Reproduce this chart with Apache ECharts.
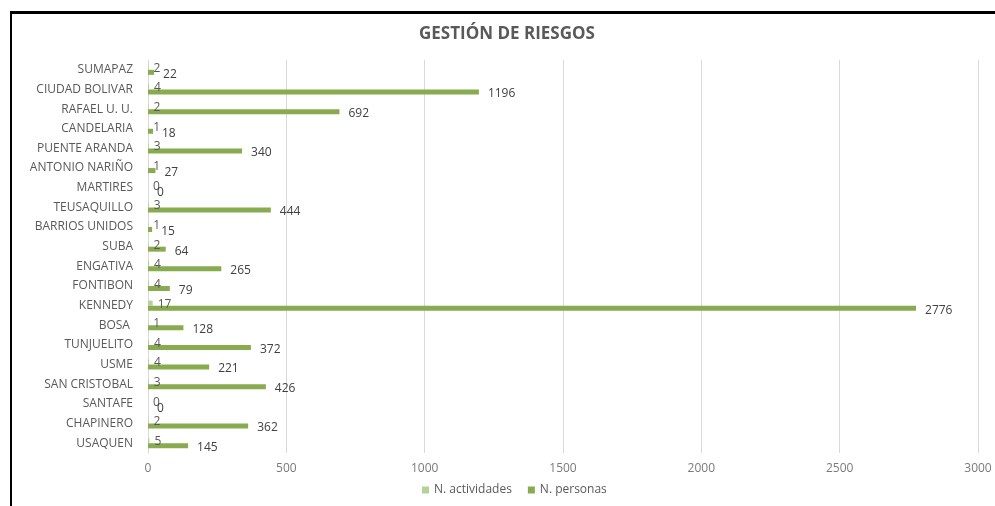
<!DOCTYPE html>
<html>
<head>
<meta charset="utf-8">
<script src="https://cdn.jsdelivr.net/npm/echarts@6/dist/echarts.min.js"></script>
<style>
  html, body { margin: 0; padding: 0; background: #fff; }
  #frame { position: absolute; left: 10px; top: 11px; width: 1000px; height: 510px;
           border-left: 2px solid #000; border-top: 3px solid #000; }
  #chart { position: absolute; left: 0; top: 0; width: 995px; height: 506px; }
</style>
</head>
<body>
<div id="frame"></div>
<div id="chart"></div>
<script>
// localidades, de arriba hacia abajo
const localidades = ['SUMAPAZ', 'CIUDAD BOLIVAR', 'RAFAEL U. U.', 'CANDELARIA', 'PUENTE ARANDA',
  'ANTONIO NARIÑO', 'MARTIRES', 'TEUSAQUILLO', 'BARRIOS UNIDOS', 'SUBA', 'ENGATIVA',
  'FONTIBON', 'KENNEDY', 'BOSA ', 'TUNJUELITO', 'USME', 'SAN CRISTOBAL', 'SANTAFE',
  'CHAPINERO', 'USAQUEN']
const actividades = [2, 4, 2, 1, 3, 1, 0, 3, 1, 2, 4, 4, 17, 1, 4, 4, 3, 0, 2, 5]
const personas = [22, 1196, 692, 18, 340, 27, 0, 444, 15, 64, 265, 79, 2776, 128, 372, 221, 426, 0, 362, 145]

const chart = echarts.init(document.getElementById('chart'))
const fuente = '"Open Sans", "DejaVu Sans", sans-serif'

chart.setOption({
  animation: false,
  title: {
    text: 'GESTIÓN DE RIESGOS',
    left: 414,
    top: 21,
    textStyle: { fontSize: 17, fontWeight: 'bold', color: '#595959', fontFamily: fuente }
  },
  legend: {
    data: ['N. actividades', 'N. personas'],
    left: 417,
    bottom: 5,
    itemWidth: 7,
    itemHeight: 7,
    itemGap: 16,
    icon: 'rect',
    textStyle: { fontSize: 12, color: '#595959', fontFamily: fuente }
  },
  grid: { left: 148, right: 17, top: 60, bottom: 53 },
  xAxis: {
    type: 'value',
    min: 0,
    max: 3000,
    interval: 500,
    axisLine: { show: false },
    axisTick: { show: false },
    splitLine: { lineStyle: { color: '#d9d9d9' } },
    axisLabel: {
      fontSize: 12, color: '#7a7a7a', fontFamily: fuente, margin: 10,
      formatter: v => String(v)
    }
  },
  yAxis: {
    type: 'category',
    data: localidades,
    inverse: true,
    axisLine: { show: true, lineStyle: { color: '#d9d9d9' } },
    axisTick: { show: false },
    axisLabel: { fontSize: 12, color: '#595959', fontFamily: fuente, margin: 15 }
  },
  series: [
    {
      name: 'N. actividades',
      type: 'bar',
      data: actividades,
      barWidth: 5,
      barGap: '0%',
      itemStyle: { color: '#b4d19a' },
      label: {
        show: true, position: 'right', distance: 5, offset: [0, 1],
        fontSize: 12, color: '#595959', fontFamily: fuente
      }
    },
    {
      name: 'N. personas',
      type: 'bar',
      data: personas,
      barWidth: 5,
      itemStyle: { color: '#88ab4f' },
      label: {
        show: true, position: 'right', distance: 9, offset: [0, 2],
        fontSize: 12, color: '#404040', fontFamily: fuente
      }
    }
  ]
})
</script>
</body>
</html>
